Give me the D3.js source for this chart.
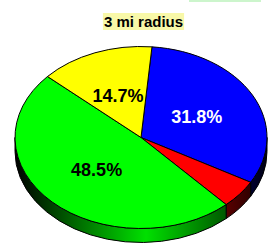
<!DOCTYPE html>
<html>
<head>
<meta charset="utf-8">
<script src="https://cdn.jsdelivr.net/npm/d3@7"></script>
<style>
  body { margin: 0; background: #fff; }
  svg { display: block; }
  text { font-family: "Liberation Sans", Arial, sans-serif; font-weight: bold; }
</style>
</head>
<body>
<script>
// chart data
var categories = ["Blue", "Red", "Green", "Yellow"];
var values = [31.8, 5.0, 48.5, 14.7];
var colors = ["#0000ff", "#ff0000", "#00ff00", "#ffff00"];
var labelColors = ["#ffffff", "#000000", "#000000", "#000000"];
var title = "3 mi radius";

function main(){
	var w = 270;
	var h = 246;

	// ellipse geometry of the tilted pie
	var cx = 141, cy = 137.5, rx = 126, ry = 91, depth = 14;
	var startDeg = 5;

	var svg = d3.select("body")
				.append("svg")
				.attr("width", w)
				.attr("height", h);

	svg.append("rect")
		.attr("x", 189).attr("y", 0)
		.attr("width", 72).attr("height", 2)
		.attr("fill", "#ccf5cc");

	var rows = categories.map(function(c, i){
		return {name: c, value: values[i], color: colors[i], label: labelColors[i]};
	});

	var start = startDeg * Math.PI / 180;
	var pie = d3.pie()
				.sort(null)
				.value(function(d){ return d.value; })
				.startAngle(start)
				.endAngle(start + 2 * Math.PI);
	var arcs = pie(rows);

	function px(a, dy){ return [cx + rx * Math.sin(a), cy - ry * Math.cos(a) + (dy || 0)]; }

	// gradients for the side walls
	var defs = svg.append("defs");
	arcs.forEach(function(d, i){
		var g = defs.append("linearGradient")
					.attr("id", "side" + i)
					.attr("gradientUnits", "userSpaceOnUse")
					.attr("x1", cx - rx).attr("x2", cx + rx)
					.attr("y1", 0).attr("y2", 0);
		var mix = d3.interpolateRgb("#000000", d.data.color);
		[[0, 0.0], [0.52, 0.88], [1, 0.08]].forEach(function(s){
			g.append("stop").attr("offset", s[0]).attr("stop-color", mix(s[1]));
		});
	});

	// side walls (front half only)
	var lo = Math.PI / 2, hi = 3 * Math.PI / 2;
	arcs.forEach(function(d, i){
		var a0 = Math.max(d.startAngle, lo), a1 = Math.min(d.endAngle, hi);
		if (a1 <= a0) return;
		var p0 = px(a0), p1 = px(a1), q1 = px(a1, depth), q0 = px(a0, depth);
		var path = "M" + p0 + " A" + rx + "," + ry + " 0 0 1 " + p1 +
				   " L" + q1 + " A" + rx + "," + ry + " 0 0 0 " + q0 + " Z";
		svg.append("path")
			.attr("d", path)
			.attr("fill", "url(#side" + i + ")")
			.attr("stroke", "#000")
			.attr("stroke-width", 1)
			.attr("stroke-linejoin", "round");
	});

	// top face
	arcs.forEach(function(d){
		var p0 = px(d.startAngle), p1 = px(d.endAngle);
		var large = (d.endAngle - d.startAngle) > Math.PI ? 1 : 0;
		var path = "M" + cx + "," + cy + " L" + p0 + " A" + rx + "," + ry + " 0 " + large + " 1 " + p1 + " Z";
		svg.append("path")
			.attr("d", path)
			.attr("fill", d.data.color)
			.attr("stroke", "#000")
			.attr("stroke-width", 1)
			.attr("stroke-linejoin", "round");
	});

	// percentage labels
	arcs.forEach(function(d){
		if (d.data.value < 10) return;
		var m = (d.startAngle + d.endAngle) / 2;
		var x = cx + rx * 0.5 * Math.sin(m);
		var y = cy - ry * 0.5 * Math.cos(m);
		svg.append("text")
			.text(d.data.value.toFixed(1) + "%")
			.attr("x", x)
			.attr("y", y)
			.attr("dy", "0.36em")
			.attr("text-anchor", "middle")
			.attr("font-size", 18)
			.attr("fill", d.data.label);
	});

	// title
	var t = svg.append("text")
				.text(title)
				.attr("x", 143.5)
				.attr("y", 27)
				.attr("text-anchor", "middle")
				.attr("font-size", 15)
				.attr("fill", "#000");
	var bb = t.node().getBBox();
	svg.insert("rect", "text")
		.attr("x", bb.x - 1).attr("y", 13)
		.attr("width", bb.width + 2).attr("height", 17)
		.attr("fill", "#f8f8a8");
}

main();
</script>
</body>
</html>
